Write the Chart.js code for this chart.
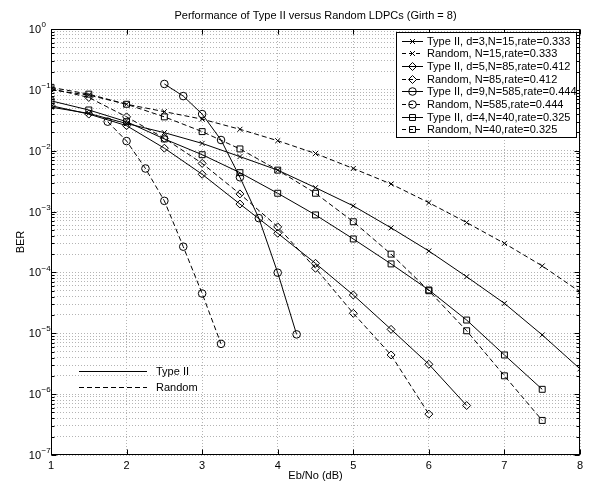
<!DOCTYPE html>
<html>
<head>
<meta charset="utf-8">
<script src="https://cdn.jsdelivr.net/npm/chart.js@4.4.1/dist/chart.umd.min.js"></script>
<style>
    html, body { margin: 0; padding: 0; background: #fff; }
    canvas { display: block; }
</style>
</head>
<body>
<canvas id="ber-chart" width="590" height="483"></canvas>
<script>
// Eb/No values (dB) for each curve
const ebno = [1, 1.5, 2, 2.5, 3, 3.5, 4, 4.5, 5, 5.5, 6, 6.5, 7, 7.5, 8];
const ebnoN85Type2 = [1, 1.5, 2, 2.5, 3, 3.5, 4, 4.5, 5, 5.5, 6, 6.5];
const ebnoN85Random = [1, 1.5, 2, 2.5, 3, 3.5, 4, 4.5, 5, 5.5, 6];
const ebnoN585Type2 = [2.5, 2.75, 3, 3.25, 3.5, 3.75, 4, 4.25];
const ebnoN585Random = [1.75, 2, 2.25, 2.5, 2.75, 3, 3.25];
const ebnoN40 = [1, 1.5, 2, 2.5, 3, 3.5, 4, 4.5, 5, 5.5, 6, 6.5, 7, 7.5];

// BER values
const berN15Type2 = [0.052, 0.041, 0.028, 0.0198, 0.0132, 0.008, 0.0048, 0.00247, 0.00124, 5.4e-4, 2.25e-4, 8.5e-5, 3.1e-5, 9.4e-6, 2.6e-6];
const berN15Random = [0.1, 0.082, 0.058, 0.0438, 0.033, 0.0225, 0.0146, 0.009, 0.0051, 0.00284, 0.0014, 6.6e-4, 3.0e-4, 1.28e-4, 4.8e-5];
const berN85Type2 = [0.055, 0.04, 0.0258, 0.011, 0.0041, 0.00133, 4.4e-4, 1.41e-4, 4.26e-5, 1.16e-5, 3.1e-6, 6.5e-7];
const berN85Random = [0.105, 0.075, 0.036, 0.016, 0.0062, 0.00195, 5.6e-4, 1.17e-4, 2.13e-5, 4.4e-6, 4.7e-7];
const berN585Type2 = [0.125, 0.079, 0.040, 0.015, 0.00366, 7.8e-4, 9.9e-5, 9.6e-6];
const berN585Random = [0.030, 0.0144, 0.0051, 0.0015, 2.65e-4, 4.5e-5, 6.7e-6];
const berN40Type2 = [0.066, 0.0467, 0.030, 0.0156, 0.0086, 0.00436, 0.002, 8.8e-4, 3.55e-4, 1.38e-4, 5.15e-5, 1.65e-5, 4.4e-6, 1.2e-6];
const berN40Random = [0.11, 0.085, 0.058, 0.036, 0.0206, 0.0107, 0.0048, 0.002, 6.8e-4, 2.0e-4, 5.0e-5, 1.1e-5, 2.0e-6, 3.7e-7];

const seriesLabels = [
    'Type II, d=3,N=15,rate=0.333',
    'Random, N=15,rate=0.333',
    'Type II, d=5,N=85,rate=0.412',
    'Random, N=85,rate=0.412',
    'Type II, d=9,N=585,rate=0.444',
    'Random, N=585,rate=0.444',
    'Type II, d=4,N=40,rate=0.325',
    'Random, N=40,rate=0.325',
];

const xTicks = [1, 2, 3, 4, 5, 6, 7, 8];
const yDecades = [0, -1, -2, -3, -4, -5, -6, -7];
const yTickExponents = ['0', '\u22121', '\u22122', '\u22123', '\u22124', '\u22125', '\u22126', '\u22127'];

const titleText = 'Performance of Type II versus Random LDPCs (Girth = 8)';
const typeLegend = ['Type II', 'Random'];

const FONT = '"Liberation Sans", Arial, Helvetica, sans-serif';
const DASH = [5, 3];

const markers = ['crossRot', 'crossRot', 'rectRot', 'rectRot', 'circle', 'circle', 'rect', 'rect'];
const markerSizes = { crossRot: 3.5, rectRot: 4, circle: 3.8, rect: 4.2 };

const toPoints = (xs, ys) => xs.map((x, i) => ({ x, y: ys[i] }));

const curves = [
    toPoints(ebno, berN15Type2),
    toPoints(ebno, berN15Random),
    toPoints(ebnoN85Type2, berN85Type2),
    toPoints(ebnoN85Random, berN85Random),
    toPoints(ebnoN585Type2, berN585Type2),
    toPoints(ebnoN585Random, berN585Random),
    toPoints(ebnoN40, berN40Type2),
    toPoints(ebnoN40, berN40Random),
];

const datasets = curves.map((data, i) => ({
    label: seriesLabels[i],
    data,
    borderColor: '#000',
    borderWidth: 1,
    borderDash: i % 2 ? DASH : [],
    pointStyle: markers[i],
    pointRadius: markerSizes[markers[i]],
    pointBorderColor: '#000',
    pointBorderWidth: 1,
    pointBackgroundColor: 'rgba(0,0,0,0)',
    tension: 0,
    fill: false,
}));

// grid values for the log axis: decades plus 2..9 minors
const yGridValues = [];
yDecades.slice().reverse().forEach((e) => {
    yGridValues.push(Math.pow(10, e));
    if (e < 0) {
        for (let m = 2; m <= 9; m++) {
            yGridValues.push(m * Math.pow(10, e));
        }
    }
});

function drawMarker(ctx, style, x, y) {
    const r = markerSizes[style];
    ctx.beginPath();
    if (style === 'circle') {
        ctx.arc(x, y, r, 0, Math.PI * 2);
    } else if (style === 'rect') {
        const s = r * Math.SQRT1_2;
        ctx.rect(x - s, y - s, 2 * s, 2 * s);
    } else if (style === 'rectRot') {
        ctx.moveTo(x, y - r);
        ctx.lineTo(x + r, y);
        ctx.lineTo(x, y + r);
        ctx.lineTo(x - r, y);
        ctx.closePath();
    } else {
        const s = r * Math.SQRT1_2;
        ctx.moveTo(x - s, y - s);
        ctx.lineTo(x + s, y + s);
        ctx.moveTo(x + s, y - s);
        ctx.lineTo(x - s, y + s);
    }
    ctx.stroke();
}

const matlabFrame = {
    id: 'matlabFrame',
    afterDraw(chart) {
        const { ctx, chartArea: area, scales } = chart;
        const xs = scales.x;
        const ys = scales.y;
        const L = Math.round(area.left) + 0.5;
        const R = Math.round(area.right) - 0.5;
        const T = Math.round(area.top) + 0.5;
        const B = Math.round(area.bottom) - 0.5;

        ctx.save();
        ctx.strokeStyle = '#000';
        ctx.fillStyle = '#000';
        ctx.lineWidth = 1;
        ctx.setLineDash([]);

        // box and inward ticks
        ctx.strokeRect(L, T, R - L, B - T);
        ctx.beginPath();
        yGridValues.forEach((v) => {
            const py = Math.round(ys.getPixelForValue(v)) + 0.5;
            const isDecade = Math.abs(Math.log10(v) - Math.round(Math.log10(v))) < 1e-9;
            const len = isDecade ? 5 : 3;
            ctx.moveTo(L, py);
            ctx.lineTo(L + len, py);
            ctx.moveTo(R, py);
            ctx.lineTo(R - len, py);
        });
        xTicks.forEach((v) => {
            const px = Math.round(xs.getPixelForValue(v)) + 0.5;
            ctx.moveTo(px, B);
            ctx.lineTo(px, B - 5);
            ctx.moveTo(px, T);
            ctx.lineTo(px, T + 5);
        });
        ctx.stroke();

        // y tick labels 10^n
        yDecades.forEach((e, i) => {
            const py = ys.getPixelForValue(Math.pow(10, e));
            ctx.font = `11px ${FONT}`;
            ctx.textAlign = 'right';
            ctx.textBaseline = 'middle';
            ctx.fillText('10', 41, py + 1);
            ctx.font = `8px ${FONT}`;
            ctx.textAlign = 'left';
            ctx.fillText(yTickExponents[i], 41.5, py - 4);
        });

        // title
        ctx.font = `11px ${FONT}`;
        ctx.textAlign = 'center';
        ctx.textBaseline = 'middle';
        ctx.fillText(titleText, (area.left + area.right) / 2, 16);

        // legend box, top right
        const boxX = 396.5;
        const boxY = 32.5;
        ctx.fillStyle = '#fff';
        ctx.fillRect(boxX, boxY, 180, 105);
        ctx.strokeRect(boxX, boxY, 180, 105);
        ctx.fillStyle = '#000';
        ctx.textAlign = 'left';
        seriesLabels.forEach((label, i) => {
            const ry = Math.round(40.7 + i * 12.66) + 0.5;
            ctx.setLineDash(i % 2 ? [4, 3] : []);
            ctx.beginPath();
            ctx.moveTo(402, ry);
            ctx.lineTo(423, ry);
            ctx.stroke();
            ctx.setLineDash([]);
            drawMarker(ctx, markers[i], 412.5, ry);
            ctx.fillText(label, 427, ry + 0.5);
        });

        // line style legend, bottom left
        typeLegend.forEach((label, i) => {
            const ry = 371.5 + i * 16;
            ctx.setLineDash(i ? DASH : []);
            ctx.beginPath();
            ctx.moveTo(79, ry);
            ctx.lineTo(147, ry);
            ctx.stroke();
            ctx.setLineDash([]);
            ctx.fillText(label, 156, ry + 0.5);
        });

        ctx.restore();
    },
};

new Chart(document.getElementById('ber-chart'), {
    type: 'line',
    data: { datasets },
    options: {
        responsive: false,
        animation: false,
        layout: { padding: { top: 29, right: 10, left: 0, bottom: 0 } },
        plugins: {
            legend: { display: false },
            tooltip: { enabled: false },
            title: { display: false },
        },
        scales: {
            x: {
                type: 'linear',
                min: 1,
                max: 8,
                afterFit: (scale) => { scale.height = 28; },
                ticks: {
                    stepSize: 1,
                    color: '#000',
                    padding: 4,
                    font: { family: FONT, size: 11 },
                },
                grid: { color: '#b4b4b4', drawTicks: false },
                border: { display: false, dash: [1, 2] },
                title: {
                    display: true,
                    text: 'Eb/No (dB)',
                    color: '#000',
                    font: { family: FONT, size: 11 },
                    padding: { top: 0, bottom: 0 },
                },
            },
            y: {
                type: 'logarithmic',
                min: 1e-7,
                max: 1,
                afterFit: (scale) => { scale.width = 51; },
                afterBuildTicks: (scale) => {
                    scale.ticks = yGridValues.map((value) => ({ value }));
                },
                ticks: { display: false },
                grid: { color: '#b4b4b4', drawTicks: false },
                border: { display: false, dash: [1, 2] },
                title: {
                    display: true,
                    text: 'BER',
                    color: '#000',
                    font: { family: FONT, size: 11 },
                    padding: { top: 14, bottom: 0 },
                },
            },
        },
    },
    plugins: [matlabFrame],
});
</script>
</body>
</html>
